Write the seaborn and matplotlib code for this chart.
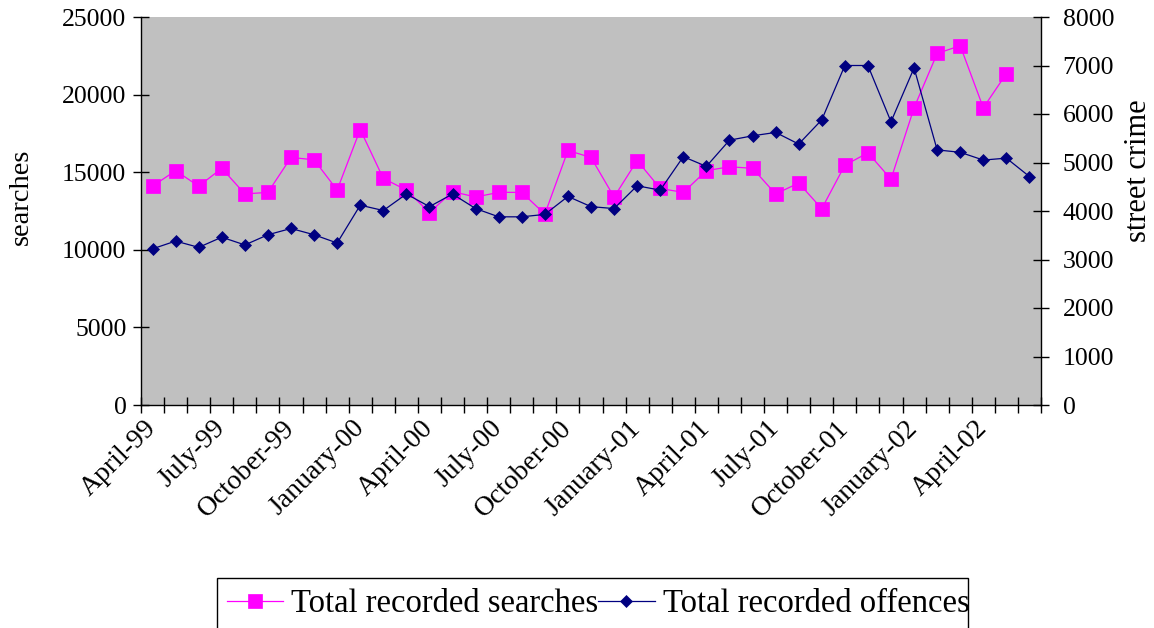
import matplotlib
matplotlib.use("Agg")
import matplotlib.pyplot as plt
import matplotlib.transforms as mtransforms
import seaborn as sns
import pandas as pd
import numpy as np
from matplotlib.patches import Rectangle

# Monthly series, April 1999 - June 2002
months = list(pd.period_range("1999-04", "2002-06", freq="M").strftime("%B-%y"))

searches = [14100, 15100, 14100, 15250, 13600, 13700, 15950, 15800, 13850, 17750,
            14600, 13850, 12400, 13750, 13400, 13700, 13700, 12300, 16400, 15950,
            13400, 15750, 13950, 13700, 15100, 15350, 15250, 13600, 14300, 12650,
            15450, 16250, 14550, 19150, 22650, 23150, 19150, 21350]

offences = [3220, 3380, 3250, 3460, 3300, 3510, 3640, 3510, 3340, 4120,
            4010, 4350, 4090, 4350, 4050, 3880, 3880, 3930, 4300, 4090,
            4050, 4520, 4430, 5120, 4920, 5460, 5550, 5620, 5380, 5880,
            7000, 7000, 5840, 6950, 5260, 5210, 5050, 5090, 4710]

tick_months = ["April-99", "July-99", "October-99", "January-00", "April-00",
               "July-00", "October-00", "January-01", "April-01", "July-01",
               "October-01", "January-02", "April-02"]

search_label = "Total recorded searches"
offence_label = "Total recorded offences"

df_s = pd.DataFrame({"month": months[:len(searches)], "pos": np.arange(len(searches)),
                     "value": searches})
df_o = pd.DataFrame({"month": months[:len(offences)], "pos": np.arange(len(offences)),
                     "value": offences})

PINK = "#FF00FF"
NAVY = "#000080"

fig = plt.figure(figsize=(11.54, 6.28), dpi=100)
plt.rcParams["font.family"] = ["Liberation Serif", "DejaVu Serif"]

ax = fig.add_axes([141 / 1154, 1 - 405 / 628, 900 / 1154, 388 / 628])
ax.set_facecolor("#C0C0C0")
ax2 = ax.twinx()

sns.lineplot(data=df_s, x="pos", y="value", ax=ax, color=PINK, marker="s",
             markersize=9.5, markeredgecolor=PINK, markeredgewidth=0.5,
             linewidth=0.9, label=search_label, legend=False)
sns.lineplot(data=df_o, x="pos", y="value", ax=ax2, color=NAVY, marker="D",
             markersize=6.5, markeredgecolor=NAVY, markeredgewidth=0.5,
             linewidth=0.9, label=offence_label, legend=False)

n = len(months)
ax.set_xlim(-0.5, n - 0.5)
ax.set_ylim(0, 25000)
ax2.set_ylim(0, 8000)
ax.set_yticks(np.arange(0, 25001, 5000))
ax2.set_yticks(np.arange(0, 8001, 1000))

# tick marks between categories, labels every quarter at category centres
ax.set_xticks(np.arange(-0.5, n, 1))
ax.set_xticklabels([])
label_pos = [months.index(m) for m in tick_months]
ax.set_xticks(label_pos, minor=True)
ax.set_xticklabels(tick_months, minor=True, rotation=45, ha="right", va="center",
                   rotation_mode="anchor", fontsize=20)
shift = mtransforms.ScaledTranslation(-9 / 100, 0, fig.dpi_scale_trans)
for lab in ax.get_xticklabels(minor=True):
    lab.set_transform(lab.get_transform() + shift)
ax.tick_params(axis="x", which="major", direction="inout", length=11, width=1)
ax.tick_params(axis="x", which="minor", length=0, pad=14)

ax.tick_params(axis="y", direction="inout", length=11, width=1, labelsize=18.5, pad=5)
ax2.tick_params(axis="y", direction="inout", length=11, width=1, labelsize=18.5, pad=10)

ax.set_xlabel("")
ax.set_ylabel("searches", fontsize=20.5)
ax2.set_ylabel("street crime", fontsize=22)
ax.yaxis.label.set_va("center")
ax2.yaxis.label.set_va("center")
ax.yaxis.set_label_coords((21 - 141) / 900, (405 - 197) / 388)
ax2.yaxis.set_label_coords((1139 - 141) / 900, (405 - 171) / 388)

for a in (ax, ax2):
    a.spines["top"].set_visible(False)
    for s in ("left", "right", "bottom"):
        a.spines[s].set_color("black")
        a.spines[s].set_linewidth(1)
ax.spines["right"].set_visible(False)
ax2.spines["left"].set_visible(False)
ax2.spines["bottom"].set_visible(False)

# legend across the bottom with a plain box that runs off the figure edge
handles = ax.get_lines()[:1] + ax2.get_lines()[:1]
fig.legend(handles, [search_label, offence_label], loc="center left",
           bbox_to_anchor=(227 / 1154, 1 - 604 / 628), ncol=2, frameon=False,
           fontsize=23.5, handlelength=1.72, handletextpad=0.25, columnspacing=0.0,
           borderpad=0, borderaxespad=0)
fig.add_artist(Rectangle((217 / 1154, -0.1), (968 - 217) / 1154, 0.1 + 1 - 578 / 628,
                         transform=fig.transFigure, fill=False, edgecolor="black",
                         linewidth=1))

fig.savefig("out.png", dpi=100, facecolor="white")
